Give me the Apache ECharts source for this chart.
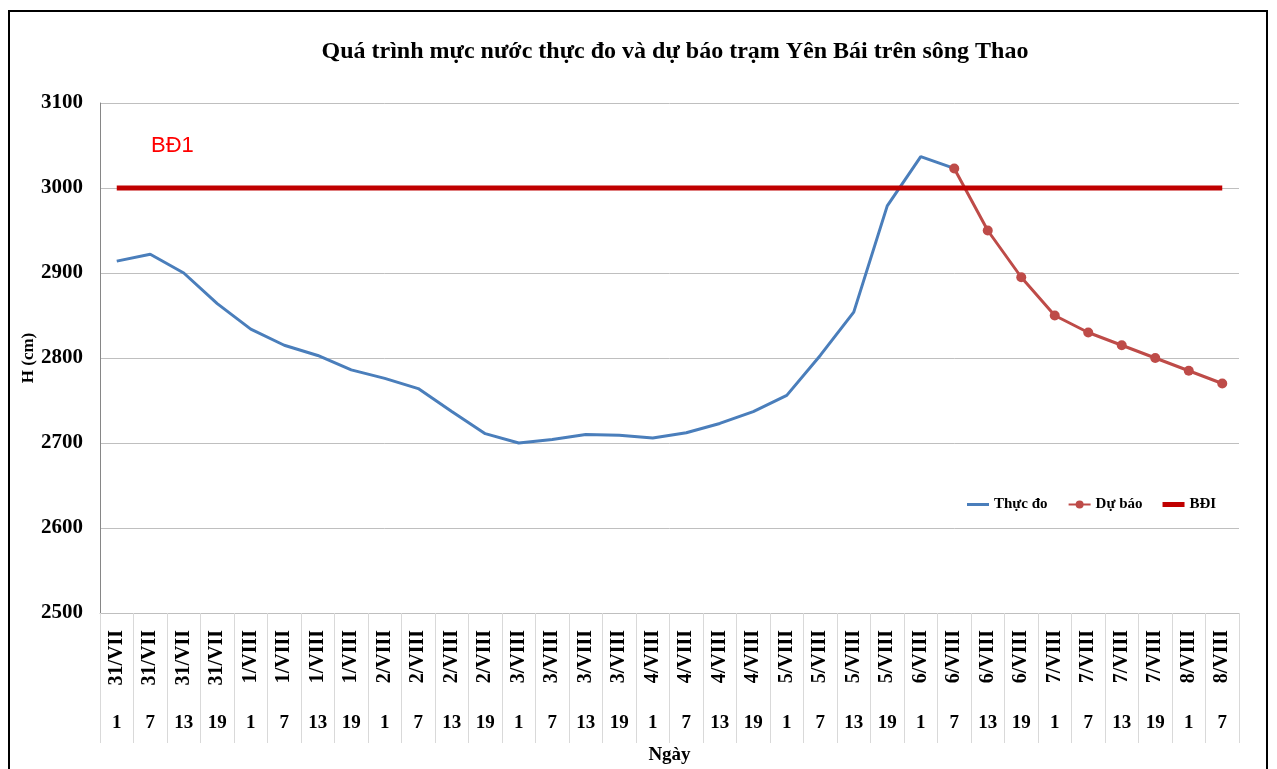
<!DOCTYPE html>
<html>
<head>
<meta charset="utf-8">
<title>Yên Bái</title>
<script src="https://cdn.jsdelivr.net/npm/echarts@6/dist/echarts.min.js"></script>
<style>
  html, body { margin: 0; padding: 0; background: #fff; }
  #chart { width: 1277px; height: 769px; }
</style>
</head>
<body>
<div id="chart"></div>
<script>
// ngày (nhãn cấp 1) và giờ (nhãn cấp 2)
var days = [
  '31/VII', '31/VII', '31/VII', '31/VII',
  '1/VIII', '1/VIII', '1/VIII', '1/VIII',
  '2/VIII', '2/VIII', '2/VIII', '2/VIII',
  '3/VIII', '3/VIII', '3/VIII', '3/VIII',
  '4/VIII', '4/VIII', '4/VIII', '4/VIII',
  '5/VIII', '5/VIII', '5/VIII', '5/VIII',
  '6/VIII', '6/VIII', '6/VIII', '6/VIII',
  '7/VIII', '7/VIII', '7/VIII', '7/VIII',
  '8/VIII', '8/VIII'
]
var hours = [
  '1', '7', '13', '19', '1', '7', '13', '19',
  '1', '7', '13', '19', '1', '7', '13', '19',
  '1', '7', '13', '19', '1', '7', '13', '19',
  '1', '7', '13', '19', '1', '7', '13', '19',
  '1', '7'
]
var categories = days.map(function (d, i) { return d + ' ' + hours[i] })

// mực nước thực đo (cm)
var thucDo = [
  2914, 2922, 2900, 2864, 2834, 2815, 2803, 2786,
  2776, 2764, 2737, 2711, 2700, 2704, 2710, 2709,
  2706, 2712, 2723, 2737, 2756, 2803, 2854, 2979,
  3037, 3023, null, null, null, null, null, null,
  null, null
]
// mực nước dự báo (cm)
var duBao = [
  null, null, null, null, null, null, null, null,
  null, null, null, null, null, null, null, null,
  null, null, null, null, null, null, null, null,
  null, 3023, 2950, 2895, 2850, 2830, 2815, 2800,
  2785, 2770
]
// báo động 1
var bd1 = days.map(function () { return 3000 })

var yTicks = { min: 2500, max: 3100, interval: 100 }

var serif = '"Liberation Serif", "DejaVu Serif", serif'

var mychart = echarts.init(document.getElementById('chart'))
mychart.setOption({
  backgroundColor: '#fff',
  animation: false,
  title: {
    text: 'Quá trình mực nước thực đo và dự báo trạm Yên Bái trên sông Thao',
    left: 670,
    textAlign: 'center',
    top: 35,
    textStyle: { fontFamily: serif, fontWeight: 'bold', fontSize: 24, color: '#000' }
  },
  legend: {
    left: 967,
    top: 497,
    padding: 0,
    itemWidth: 22,
    itemHeight: 10,
    itemGap: 20,
    textStyle: { fontFamily: serif, fontWeight: 'bold', fontSize: 15, color: '#000' },
    data: [
      { name: 'Thực đo', icon: 'path://M0,0 L22,0 L22,3 L0,3 Z' },
      { name: 'Dự báo' },
      { name: 'BĐI', icon: 'path://M0,0 L22,0 L22,5 L0,5 Z' }
    ]
  },
  graphic: [
    {
      type: 'rect',
      shape: { x: 9, y: 11, width: 1258, height: 770 },
      style: { fill: null, stroke: '#000', lineWidth: 2 },
      silent: true
    },
    {
      type: 'text',
      left: 151,
      top: 135,
      style: { text: 'BĐ1', fill: '#ff0000', fontSize: 22, fontFamily: '"Liberation Sans", Arial, sans-serif' }
    }
  ],
  grid: { left: 100, right: 38, top: 103, bottom: 156, containLabel: false, outerBoundsMode: 'none' },
  xAxis: [
    {
      type: 'category',
      data: categories,
      boundaryGap: true,
      axisLine: { lineStyle: { color: '#bfbfbf' } },
      axisTick: { show: true, interval: 0, length: 130, lineStyle: { color: '#d9d9d9' } },
      axisLabel: {
        interval: 0,
        rotate: 90,
        margin: 17,
        fontFamily: serif,
        fontWeight: 'bold',
        fontSize: 20,
        color: '#000',
        formatter: function (v, i) { return days[i] }
      }
    },
    {
      type: 'category',
      data: categories,
      position: 'bottom',
      boundaryGap: true,
      axisLine: { show: false },
      axisTick: { show: false },
      axisLabel: {
        interval: 0,
        margin: 101,
        fontFamily: serif,
        fontWeight: 'bold',
        fontSize: 19,
        color: '#000',
        formatter: function (v, i) { return hours[i] }
      },
      name: 'Ngày',
      nameLocation: 'middle',
      nameGap: 133,
      nameMoveOverlap: false,
      nameTextStyle: { fontFamily: serif, fontWeight: 'bold', fontSize: 19, color: '#000' }
    }
  ],
  yAxis: {
    type: 'value',
    min: yTicks.min,
    max: yTicks.max,
    interval: yTicks.interval,
    axisLine: { show: true, lineStyle: { color: '#868686' } },
    axisTick: { show: false },
    splitLine: { lineStyle: { color: '#bfbfbf' } },
    axisLabel: {
      margin: 17,
      fontFamily: serif,
      fontWeight: 'bold',
      fontSize: 21,
      color: '#000',
      formatter: function (v) { return String(v) }
    },
    name: 'H (cm)',
    nameLocation: 'middle',
    nameGap: 63,
    nameMoveOverlap: false,
    nameTextStyle: { fontFamily: serif, fontWeight: 'bold', fontSize: 17, color: '#000' }
  },
  series: [
    {
      name: 'Thực đo',
      type: 'line',
      data: thucDo,
      symbol: 'none',
      color: '#4a7ebb',
      lineStyle: { width: 3 },
      z: 2
    },
    {
      name: 'Dự báo',
      type: 'line',
      data: duBao,
      symbol: 'circle',
      symbolSize: 10,
      color: '#be4b48',
      lineStyle: { width: 3 },
      z: 3
    },
    {
      name: 'BĐI',
      type: 'line',
      data: bd1,
      symbol: 'none',
      color: '#c00000',
      lineStyle: { width: 5 },
      z: 4
    }
  ]
})
</script>
</body>
</html>
